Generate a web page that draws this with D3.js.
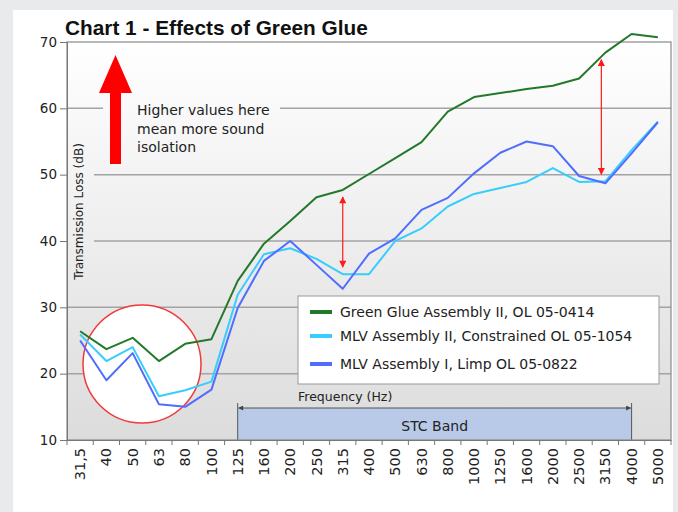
<!DOCTYPE html>
<html>
<head>
<meta charset="utf-8">
<script src="https://cdn.jsdelivr.net/npm/d3@7"></script>
<style>
  body { margin: 0; background: #e9eaec; }
  svg { display: block; font-family: "DejaVu Sans", Verdana, sans-serif; }
</style>
</head>
<body>
<svg id="chart" width="678" height="512"></svg>
<script>
// frequency bands (Hz)
const freqs = ['31,5', '40', '50', '63', '80', '100', '125', '160', '200', '250', '315', '400',
  '500', '630', '800', '1000', '1250', '1600', '2000', '2500', '3150', '4000', '5000'];

const greenGlue = [26.4, 23.7, 25.4, 21.9, 24.5, 25.2, 34.0, 39.6, 43.0, 46.6, 47.7, 50.1,
  52.5, 54.9, 59.5, 61.7, 62.3, 62.9, 63.4, 64.5, 68.4, 71.2, 70.7];
const mlvConstrained = [25.9, 21.9, 24.0, 16.6, 17.5, 18.8, 31.9, 38.0, 38.9, 37.3, 35.0, 35.0,
  40.0, 41.9, 45.2, 47.1, 48.0, 48.9, 51.0, 48.9, 49.0, 53.7, 58.0];
const mlvLimp = [25.0, 19.0, 23.1, 15.4, 15.0, 17.6, 29.9, 37.0, 40.0, 36.4, 32.8, 38.1,
  40.4, 44.7, 46.5, 50.2, 53.3, 55.0, 54.3, 49.8, 48.7, 53.2, 57.9];

const seriesNames = ['Green Glue Assembly II, OL 05-0414',
  'MLV Assembly II, Constrained OL 05-1054',
  'MLV Assembly I, Limp OL 05-0822'];
const seriesColors = ['#23792a', '#38cdfd', '#506dff'];
const yTicks = [10, 20, 30, 40, 50, 60, 70];

const svg = d3.select('#chart');

// white panel
svg.append('rect').attr('x', 13).attr('y', 10).attr('width', 660).attr('height', 502).attr('fill', '#fff');

const pLeft = 67, pRight = 671, pTop = 42, pBottom = 440;

const x = d3.scaleBand().domain(freqs).range([pLeft, pRight]).padding(0);
const y = d3.scaleLinear().domain([10, 70]).range([pBottom, pTop]);
const bw = x.bandwidth();
const cx = (d) => x(d) + bw / 2;

// background gradient in user space so cover boxes match
const defs = svg.append('defs');
const grad = defs.append('linearGradient').attr('id', 'bg')
  .attr('gradientUnits', 'userSpaceOnUse')
  .attr('x1', 0).attr('y1', pTop).attr('x2', 0).attr('y2', pBottom);
grad.append('stop').attr('offset', '0%').attr('stop-color', '#ffffff');
grad.append('stop').attr('offset', '100%').attr('stop-color', '#dcdcdc');

['redHead', 'greyHead'].forEach((id, i) => {
  defs.append('marker').attr('id', id)
    .attr('viewBox', '0 0 10 10').attr('refX', 9).attr('refY', 5)
    .attr('markerWidth', i == 0 ? 9 : 8).attr('markerHeight', i == 0 ? 7 : 5)
    .attr('markerUnits', 'userSpaceOnUse')
    .attr('orient', 'auto-start-reverse')
    .append('path').attr('d', 'M0,0 L10,5 L0,10 Z')
    .attr('fill', i == 0 ? '#ff1a1a' : '#444');
});

svg.append('rect')
  .attr('x', pLeft).attr('y', pTop).attr('width', pRight - pLeft).attr('height', pBottom - pTop)
  .attr('fill', 'url(#bg)');

// grid lines
svg.append('g').selectAll('line')
  .data(yTicks.slice(1, -1))
  .join('line')
  .attr('x1', pLeft).attr('x2', pRight)
  .attr('y1', (d) => y(d)).attr('y2', (d) => y(d))
  .attr('stroke', '#a3a3a3').attr('stroke-width', 1.5);

// cover boxes for texts sitting on the grid
svg.append('rect').attr('x', pLeft + 1).attr('y', 135).attr('width', 26).attr('height', 152).attr('fill', 'url(#bg)');
svg.append('rect').attr('x', 103).attr('y', 100).attr('width', 177).attr('height', 60).attr('fill', 'url(#bg)');

svg.append('text')
  .attr('transform', `translate(${pLeft + 15.5},${(140 + 283) / 2}) rotate(-90)`)
  .attr('text-anchor', 'middle')
  .style('font-size', '12px').style('fill', '#222')
  .text('Transmission Loss (dB)');

svg.append('g').selectAll('text')
  .data(['Higher values here', 'mean more sound', 'isolation'])
  .join('text')
  .attr('x', 137).attr('y', (d, i) => 115 + i * 18.7)
  .style('font-size', '14px').style('fill', '#222')
  .text((d) => d);

// big red arrow
svg.append('path')
  .attr('d', 'M110,164 L110,93 L99,93 L115.5,55 L132,93 L121,93 L121,164 Z')
  .attr('fill', '#ff0000');

// red circle
svg.append('circle')
  .attr('cx', 142).attr('cy', 364).attr('r', 59)
  .attr('fill', '#fff').attr('stroke', '#f03a3a').attr('stroke-width', 1.5);

// STC band
const x0 = cx('125'), x1 = cx('4000');
svg.append('rect').attr('x', x0).attr('y', 408).attr('width', x1 - x0).attr('height', pBottom - 408)
  .attr('fill', '#b9c9e8');
svg.append('g').selectAll('line').data([x0, x1]).join('line')
  .attr('x1', (d) => d).attr('x2', (d) => d).attr('y1', 403).attr('y2', pBottom)
  .attr('stroke', '#555').attr('stroke-width', 1);
svg.append('line').attr('x1', x0 + 1).attr('x2', x1 - 1).attr('y1', 408).attr('y2', 408)
  .attr('stroke', '#555').attr('stroke-width', 1)
  .attr('marker-start', 'url(#greyHead)').attr('marker-end', 'url(#greyHead)');
svg.append('text').attr('x', (x0 + x1) / 2).attr('y', 431).attr('text-anchor', 'middle')
  .style('font-size', '14px').style('fill', '#222').text('STC Band');
svg.append('text').attr('x', 298).attr('y', 401)
  .style('font-size', '12.5px').style('fill', '#222').text('Frequency (Hz)');

// legend
const legend = svg.append('g');
legend.append('rect').attr('x', 298).attr('y', 296).attr('width', 361).attr('height', 88)
  .attr('fill', '#fff').attr('stroke', '#999');
const legendY = [312, 336, 364];
seriesNames.forEach((name, i) => {
  legend.append('line').attr('x1', 310).attr('x2', 332).attr('y1', legendY[i]).attr('y2', legendY[i])
    .attr('stroke', seriesColors[i]).attr('stroke-width', 4);
  legend.append('text').attr('x', 340).attr('y', legendY[i] + 5)
    .style('font-size', '14px').style('fill', '#222').text(name);
});

// frame
svg.append('rect')
  .attr('x', pLeft).attr('y', pTop).attr('width', pRight - pLeft).attr('height', pBottom - pTop)
  .attr('fill', 'none').attr('stroke', '#8a8a8a').attr('stroke-width', 1.2);

// series lines
const line = d3.line().x((d, i) => cx(freqs[i])).y((d) => y(d));
[greenGlue, mlvConstrained, mlvLimp].forEach((s, i) => {
  svg.append('path').datum(s)
    .attr('d', line)
    .attr('fill', 'none')
    .attr('stroke', seriesColors[i])
    .attr('stroke-width', 2)
    .attr('stroke-linejoin', 'round');
});

// difference arrows
[['315', 10, 0], ['3150', 20, -4]].forEach(([f, i, off]) => {
  svg.append('line')
    .attr('x1', cx(f) + off).attr('x2', cx(f) + off)
    .attr('y1', y(greenGlue[i]) + 7).attr('y2', y(mlvConstrained[i]) - 7)
    .attr('stroke', '#ff1a1a').attr('stroke-width', 1.2)
    .attr('marker-start', 'url(#redHead)').attr('marker-end', 'url(#redHead)');
});

// axes
const yAxis = svg.append('g').attr('transform', `translate(${pLeft},0)`)
  .call(d3.axisLeft(y).tickValues(yTicks).tickSize(7).tickPadding(3));
yAxis.select('.domain').attr('stroke', '#777');
yAxis.selectAll('line').attr('stroke', '#777');
yAxis.selectAll('text').style('font-size', '13.5px').style('fill', '#222')
  .style('font-family', '"DejaVu Sans", Verdana, sans-serif');

const xAxis = svg.append('g').attr('transform', `translate(0,${pBottom})`)
  .call(d3.axisBottom(x).tickSize(0));
xAxis.select('.domain').attr('stroke', '#777');
xAxis.selectAll('text')
  .attr('transform', 'rotate(-90)')
  .attr('x', -8).attr('y', 0).attr('dy', '0.35em')
  .style('text-anchor', 'end')
  .style('font-size', '14.5px').style('fill', '#222')
  .style('font-family', '"DejaVu Sans", Verdana, sans-serif');

svg.append('g').selectAll('line')
  .data(freqs.map((d) => x(d)).concat([pRight]))
  .join('line')
  .attr('x1', (d) => d).attr('x2', (d) => d)
  .attr('y1', pBottom).attr('y2', pBottom + 5)
  .attr('stroke', '#777');

// title
svg.append('text').attr('x', 65).attr('y', 35)
  .style('font-family', 'Arial, "Liberation Sans", sans-serif')
  .style('font-size', '20.8px').style('font-weight', 'bold').style('fill', '#111')
  .text('Chart 1 - Effects of Green Glue');
</script>
</body>
</html>
